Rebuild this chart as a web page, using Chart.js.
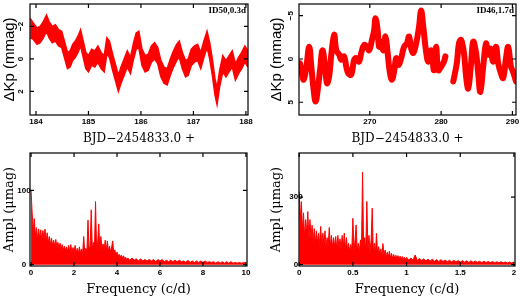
<!DOCTYPE html>
<html lang="en">
<head>
<meta charset="UTF-8">
<title>Light curves and amplitude spectra</title>
<script src="https://cdn.jsdelivr.net/npm/chart.js"></script>
<style>
  body { margin: 0; background: #fff; }
  .wrap { position: relative; width: 520px; height: 298px; }
  .wrap canvas { position: absolute; }
</style>
</head>
<body>
<div class="wrap">
  <canvas id="lcLeft" width="260" height="149" style="left:0;top:0"></canvas>
  <canvas id="lcRight" width="260" height="149" style="left:260px;top:0"></canvas>
  <canvas id="ftLeft" width="260" height="149" style="left:0;top:149px"></canvas>
  <canvas id="ftRight" width="260" height="149" style="left:260px;top:149px"></canvas>
</div>
<script>
// ID50 light curve: upper and lower edge of the scatter band (mmag)
const tlTime = [183.89, 183.95, 184.02, 184.08, 184.14, 184.2, 184.25, 184.31, 184.37, 184.43,
  184.49, 184.55, 184.6, 184.65, 184.7, 184.75, 184.8, 184.85, 184.9, 184.95,
  185.0, 185.06, 185.12, 185.18, 185.24, 185.3, 185.35, 185.4, 185.46, 185.52,
  185.57, 185.62, 185.68, 185.74, 185.8, 185.86, 185.91, 185.96, 186.02, 186.08,
  186.14, 186.2, 186.26, 186.32, 186.38, 186.44, 186.5, 186.56, 186.62, 186.68,
  186.73, 186.79, 186.85, 186.9, 186.96, 187.02, 187.08, 187.14, 187.2, 187.26,
  187.31, 187.36, 187.41, 187.45, 187.5, 187.56, 187.62, 187.68, 187.74, 187.8,
  187.86, 187.92, 187.98, 188.04];
const tlTop = [-2.5, -2.2, -1.9, -2.0, -2.3, -2.7, -2.3, -2.0, -2.1, -1.8,
  -1.7, -1.0, -0.4, -0.5, -0.9, -1.1, -1.4, -1.8, -1.1, -0.4,
  -0.2, -0.6, -0.5, -0.8, -0.4, -0.2, -1.3, -1.1, -0.3, 0.4,
  1.0, 0.5, 0.0, -0.5, -0.1, -1.0, -1.6, -1.7, -0.6, -0.2,
  -0.3, -0.8, -1.0, -0.7, 0.1, 0.5, 0.6, 0.0, -0.5, -0.9,
  -1.1, -0.4, 0.1, 0.0, -0.6, -0.8, -0.9, -0.4, -1.1, -1.7,
  -1.0, 0.0, 1.2, 1.8, 0.7, -0.2, 0.1, -0.2, -0.5, 0.3,
  -0.1, -0.4, -0.8, -0.5];
const tlBottom = [-1.3, -1.2, -0.9, -1.0, -1.3, -1.7, -1.3, -1.0, -1.1, -0.8,
  -0.7, 0.0, 0.6, 0.5, 0.1, -0.1, -0.4, -0.8, -0.1, 0.6,
  0.8, 0.4, 0.5, 0.2, 0.6, 0.8, -0.3, -0.1, 0.7, 1.4,
  2.0, 1.5, 1.0, 0.5, 0.9, 0.0, -0.6, -0.7, 0.4, 0.8,
  0.7, 0.2, 0.0, 0.3, 1.1, 1.5, 1.6, 1.0, 0.5, 0.1,
  -0.1, 0.6, 1.1, 1.0, 0.4, 0.2, 0.1, 0.6, -0.1, -0.7,
  0.0, 1.0, 2.2, 2.8, 1.7, 0.8, 1.1, 0.8, 0.5, 1.3,
  0.9, 0.6, 0.2, 0.5];

// ID46 light curve (mmag), null marks the data gap
const trTime = [260.2, 260.45, 260.73, 261.1, 261.5, 261.8, 262.1, 262.4, 262.75, 263.07,
  263.36, 263.7, 264.0, 264.3, 264.6, 265.0, 265.3, 265.7, 266.0, 266.4,
  266.7, 267.0, 267.4, 267.8, 268.1, 268.5, 268.8, 269.2, 269.6, 269.9,
  270.3, 270.6, 270.8, 271.1, 271.3, 271.6, 271.9, 272.2, 272.5, 272.8,
  273.1, 273.4, 273.7, 274.0, 274.4, 274.8, 275.2, 275.5, 275.8, 276.1,
  276.5, 276.9, 277.2, 277.5, 277.9, 278.2, 278.6, 279.0, 279.3, 279.6,
  280.0, 280.4, 280.6, 281.1, 281.7, 282.2, 282.5, 282.8, 283.2, 283.5,
  283.8, 284.2, 284.5, 284.9, 285.2, 285.5, 285.9, 286.3, 286.6, 286.9,
  287.3, 287.7, 288.0, 288.4, 288.7, 289.1, 289.4, 289.8, 290.1, 290.5];
const trFlux = [0.5, 1.5, 2.4, 0.9, -1.4, 0.9, 3.4, 4.9, 3.2, 0.9,
  -1.0, 0.7, 2.8, 2.0, -0.5, -2.8, -1.0, -0.5, 0.1, -0.3,
  0.9, 1.7, 1.8, 0.1, -0.1, 0.3, -0.7, -1.6, -1.4, -1.0,
  -2.2, -3.3, -4.7, -3.3, -1.4, -2.0, -1.0, -2.6, -0.7, 1.5,
  2.4, 1.5, -0.1, 0.7, -0.1, -1.4, -1.8, -2.6, -1.2, -0.7,
  -1.8, -3.7, -5.6, -3.7, -0.8, 0.3, -1.0, 1.3, -1.4, 1.3,
  0.9, 0.3, -0.3, null, 2.6, 0.5, -1.8, -2.2, -0.7, 2.0,
  3.4, 0.5, -2.0, -0.7, 1.7, 3.8, 0.9, -1.8, -0.5, -1.2,
  0.3, -1.4, 0.5, 1.7, 2.2, -0.1, -1.4, 0.9, 1.5, 2.6];

// ID50 amplitude spectrum (c/d, umag)
const blFreq = [0, 0.05, 0.1, 0.15, 0.2, 0.25, 0.3, 0.35, 0.4, 0.45,
  0.5, 0.55, 0.6, 0.65, 0.7, 0.75, 0.8, 0.85, 0.9, 0.95,
  1, 1.05, 1.1, 1.15, 1.2, 1.25, 1.3, 1.35, 1.4, 1.45,
  1.5, 1.55, 1.6, 1.65, 1.7, 1.75, 1.8, 1.85, 1.9, 1.95,
  2, 2.05, 2.1, 2.15, 2.2, 2.25, 2.3, 2.35, 2.4, 2.45,
  2.5, 2.55, 2.6, 2.65, 2.7, 2.75, 2.8, 2.85, 2.9, 2.95,
  3, 3.05, 3.1, 3.15, 3.2, 3.25, 3.3, 3.35, 3.4, 3.45,
  3.5, 3.55, 3.6, 3.65, 3.7, 3.75, 3.8, 3.85, 3.9, 3.95,
  4, 4.05, 4.1, 4.15, 4.2, 4.25, 4.3, 4.35, 4.4, 4.45,
  4.5, 4.6, 4.7, 4.8, 4.9, 5, 5.1, 5.2, 5.3, 5.4,
  5.5, 5.6, 5.7, 5.8, 5.9, 6, 6.1, 6.2, 6.3, 6.4,
  6.5, 6.6, 6.7, 6.8, 6.9, 7, 7.1, 7.2, 7.3, 7.4,
  7.5, 7.6, 7.7, 7.8, 7.9, 8, 8.1, 8.2, 8.3, 8.4,
  8.5, 8.6, 8.7, 8.8, 8.9, 9, 9.1, 9.2, 9.3, 9.4,
  9.5, 9.6, 9.7, 9.8, 9.9, 10];
const blAmp = [100, 70, 45, 62, 38, 50, 34, 48, 36, 47,
  33, 46, 35, 48, 32, 43, 30, 38, 27, 36,
  26, 33, 25, 34, 24, 30, 22, 29, 21, 27,
  20, 25, 19, 24, 18, 26, 17, 27, 16, 23,
  17, 26, 16, 22, 15, 24, 16, 21, 15, 38,
  16, 22, 17, 60, 18, 26, 74, 20, 30, 22,
  85, 22, 30, 55, 20, 38, 21, 28, 20, 33,
  19, 32, 18, 25, 17, 24, 32, 15, 20, 13,
  17, 11, 14, 10, 13, 9, 12, 8, 10, 7,
  9, 6, 9, 6, 8, 5, 8, 5, 7, 5,
  7, 5, 7, 4, 7, 5, 7, 4, 6, 4,
  6, 4, 6, 4, 6, 4, 5, 3, 6, 3,
  5, 3, 5, 3, 5, 3, 5, 3, 4, 3,
  4, 2, 4, 2, 4, 2, 4, 2, 4, 2,
  3, 2, 3, 2, 3, 2];

// ID46 amplitude spectrum (c/d, umag)
const brFreq = [0, 0.01, 0.02, 0.03, 0.04, 0.05, 0.06, 0.07, 0.08, 0.09,
  0.1, 0.11, 0.12, 0.13, 0.14, 0.15, 0.16, 0.17, 0.18, 0.19,
  0.2, 0.21, 0.22, 0.23, 0.24, 0.25, 0.26, 0.27, 0.28, 0.29,
  0.3, 0.31, 0.32, 0.33, 0.34, 0.35, 0.36, 0.37, 0.38, 0.39,
  0.4, 0.41, 0.42, 0.43, 0.44, 0.45, 0.46, 0.47, 0.48, 0.49,
  0.5, 0.51, 0.52, 0.53, 0.54, 0.55, 0.56, 0.57, 0.58, 0.59,
  0.6, 0.61, 0.62, 0.63, 0.64, 0.65, 0.66, 0.67, 0.68, 0.69,
  0.7, 0.71, 0.72, 0.73, 0.74, 0.75, 0.76, 0.77, 0.78, 0.79,
  0.8, 0.81, 0.82, 0.83, 0.84, 0.85, 0.86, 0.87, 0.88, 0.89,
  0.9, 0.91, 0.92, 0.93, 0.94, 0.95, 0.96, 0.97, 0.98, 0.99,
  1, 1.02, 1.04, 1.06, 1.08, 1.1, 1.12, 1.14, 1.16, 1.18,
  1.2, 1.22, 1.24, 1.26, 1.28, 1.3, 1.32, 1.34, 1.36, 1.38,
  1.4, 1.42, 1.44, 1.46, 1.48, 1.5, 1.52, 1.54, 1.56, 1.58,
  1.6, 1.62, 1.64, 1.66, 1.68, 1.7, 1.72, 1.74, 1.76, 1.78,
  1.8, 1.82, 1.84, 1.86, 1.88, 1.9, 1.92, 1.94, 1.96, 1.98,
  2];
const brAmp = [325, 200, 280, 150, 230, 120, 200, 140, 236, 110,
  200, 120, 175, 100, 160, 95, 150, 100, 140, 90,
  170, 85, 140, 90, 150, 80, 120, 85, 165, 80,
  130, 75, 120, 80, 125, 70, 130, 75, 115, 70,
  130, 75, 140, 70, 120, 65, 95, 60, 90, 65,
  206, 60, 110, 176, 60, 95, 55, 110, 60, 411,
  70, 120, 60, 281, 65, 130, 55, 110, 251, 50,
  95, 50, 139, 45, 80, 45, 70, 40, 94, 40,
  65, 35, 55, 35, 60, 30, 50, 28, 45, 28,
  42, 26, 40, 25, 38, 24, 36, 22, 34, 22,
  32, 20, 30, 20, 43, 18, 28, 18, 26, 16,
  25, 16, 24, 15, 22, 14, 22, 14, 20, 13,
  20, 12, 19, 12, 18, 11, 18, 11, 17, 10,
  17, 10, 16, 10, 15, 9, 15, 9, 14, 9,
  14, 8, 13, 8, 13, 8, 12, 7, 12, 7,
  11];

// tick values and labels
const tlTicksX = [184, 185, 186, 187, 188];
const tlTicksY = [-2, 0, 2];
const trTicksX = [270, 280, 290];
const trTicksY = [-5, 0, 5];
const blTicksX = [0, 2, 4, 6, 8, 10];
const blTicksY = [0, 100];
const brTicksX = [0, 0.5, 1, 1.5, 2];
const brTicksY = [0, 300];

const fmt = v => v < 0 ? '\u2212' + Math.abs(v) : String(v);
const toPts = (xs, ys) => xs.map((v, i) => ({ x: v, y: ys[i] }));

// frame, inside ticks, tick labels and axis titles (PGPLOT look)
const panelDeco = {
  id: 'panelDeco',
  afterDraw(chart, args, o) {
    const { ctx, chartArea: a, scales: { x, y } } = chart;
    ctx.save();
    ctx.strokeStyle = '#000';
    ctx.fillStyle = '#000';
    ctx.lineWidth = 1.2;
    ctx.strokeRect(a.left, a.top, a.right - a.left, a.bottom - a.top);
    ctx.beginPath();
    o.xTicks.forEach(v => {
      const px = x.getPixelForValue(v);
      ctx.moveTo(px, a.bottom); ctx.lineTo(px, a.bottom - 4);
      ctx.moveTo(px, a.top); ctx.lineTo(px, a.top + 4);
    });
    o.yTicks.forEach(v => {
      const py = y.getPixelForValue(v);
      ctx.moveTo(a.left, py); ctx.lineTo(a.left + 4, py);
      ctx.moveTo(a.right, py); ctx.lineTo(a.right - 4, py);
    });
    ctx.stroke();

    ctx.font = 'bold 8px "Liberation Sans"';
    ctx.textAlign = 'center';
    ctx.textBaseline = 'middle';
    o.xTicks.forEach(v => ctx.fillText(fmt(v), x.getPixelForValue(v), a.bottom + 6.5));
    o.yTicks.forEach(v => {
      const py = y.getPixelForValue(v);
      if (o.yRotate) {
        ctx.save();
        ctx.translate(a.left + o.yLabelDx, py);
        ctx.rotate(-Math.PI / 2);
        ctx.fillText(fmt(v), 0, 0);
        ctx.restore();
      } else {
        ctx.fillText(fmt(v), a.left + o.yLabelDx, py);
      }
    });

    ctx.font = o.xTitleFont;
    ctx.fillText(o.xTitle, (a.left + a.right) / 2, o.xTitleY);
    ctx.save();
    ctx.font = o.yTitleFont;
    ctx.translate(a.left + o.yTitleDx, (a.top + a.bottom) / 2);
    ctx.rotate(-Math.PI / 2);
    ctx.fillText(o.yTitle, 0, 0);
    ctx.restore();

    if (o.note) {
      ctx.font = 'bold 9px "Liberation Serif"';
      ctx.textAlign = 'right';
      ctx.fillText(o.note, a.right - 2, a.top + 7);
    }
    ctx.restore();
  }
};

function makePanel(id, datasets, xr, yr, pad, deco) {
  return new Chart(document.getElementById(id), {
    type: 'line',
    data: { datasets },
    options: {
      responsive: false,
      animation: false,
      devicePixelRatio: 1,
      layout: { padding: pad },
      scales: {
        x: { type: 'linear', display: false, min: xr[0], max: xr[1] },
        y: { type: 'linear', display: false, min: yr[0], max: yr[1], reverse: yr[2] }
      },
      elements: { point: { radius: 0 }, line: { tension: 0 } },
      plugins: { legend: { display: false }, tooltip: { enabled: false }, panelDeco: deco }
    },
    plugins: [panelDeco]
  });
}

const RED = '#ff0000';
const lcTitle = { xTitle: 'BJD\u22122454833.0 +', xTitleFont: '12px "DejaVu Serif"', xTitleY: 139,
  yTitle: '\u0394Kp (mmag)', yTitleFont: '15px "Liberation Sans"', yRotate: true };
const ftTitle = { xTitle: 'Frequency (c/d)', xTitleFont: '13px "DejaVu Serif"', xTitleY: 141,
  yTitle: 'Ampl (\u03bcmag)', yTitleFont: '13px "DejaVu Serif"', yRotate: false };

makePanel('lcLeft', [
  { data: toPts(tlTime, tlTop), borderColor: RED, borderWidth: 1.5, fill: false, clip: 0 },
  { data: toPts(tlTime, tlBottom), borderColor: RED, borderWidth: 1.5, backgroundColor: RED, fill: '-1', clip: 0 }
], [183.886, 188.04], [-3.38, 3.45, true], { left: 30, top: 4, right: 12, bottom: 34 },
  Object.assign({ xTicks: tlTicksX, yTicks: tlTicksY, yLabelDx: -9, yTitleDx: -20, note: 'ID50,0.3d' }, lcTitle));

makePanel('lcRight', [
  { data: toPts(trTime, trFlux), borderColor: RED, borderWidth: 6, fill: false, spanGaps: false,
    tension: 0.4, borderCapStyle: 'round', borderJoinStyle: 'round', clip: 0 }
], [260.07, 290.5], [-6.35, 6.47, true], { left: 39, top: 4, right: 4, bottom: 34 },
  Object.assign({ xTicks: trTicksX, yTicks: trTicksY, yLabelDx: -8, yTitleDx: -22, note: 'ID46,1.7d' }, lcTitle));

makePanel('ftLeft', [
  { data: toPts(blFreq, blAmp), borderColor: RED, borderWidth: 1, backgroundColor: RED, fill: 'origin', clip: 0 }
], [-0.05, 10.05], [-1.8, 150.5, false], { left: 30, top: 4, right: 13, bottom: 32 },
  Object.assign({ xTicks: blTicksX, yTicks: blTicksY, yLabelDx: -6, yTitleDx: -20 }, ftTitle));

makePanel('ftRight', [
  { data: toPts(brFreq, brAmp), borderColor: RED, borderWidth: 1, backgroundColor: RED, fill: 'origin', clip: 0 }
], [-0.002, 2.01], [-6, 496, false], { left: 39, top: 4, right: 5, bottom: 32 },
  Object.assign({ xTicks: brTicksX, yTicks: brTicksY, yLabelDx: -3, yTitleDx: -22 }, ftTitle));
</script>
</body>
</html>
